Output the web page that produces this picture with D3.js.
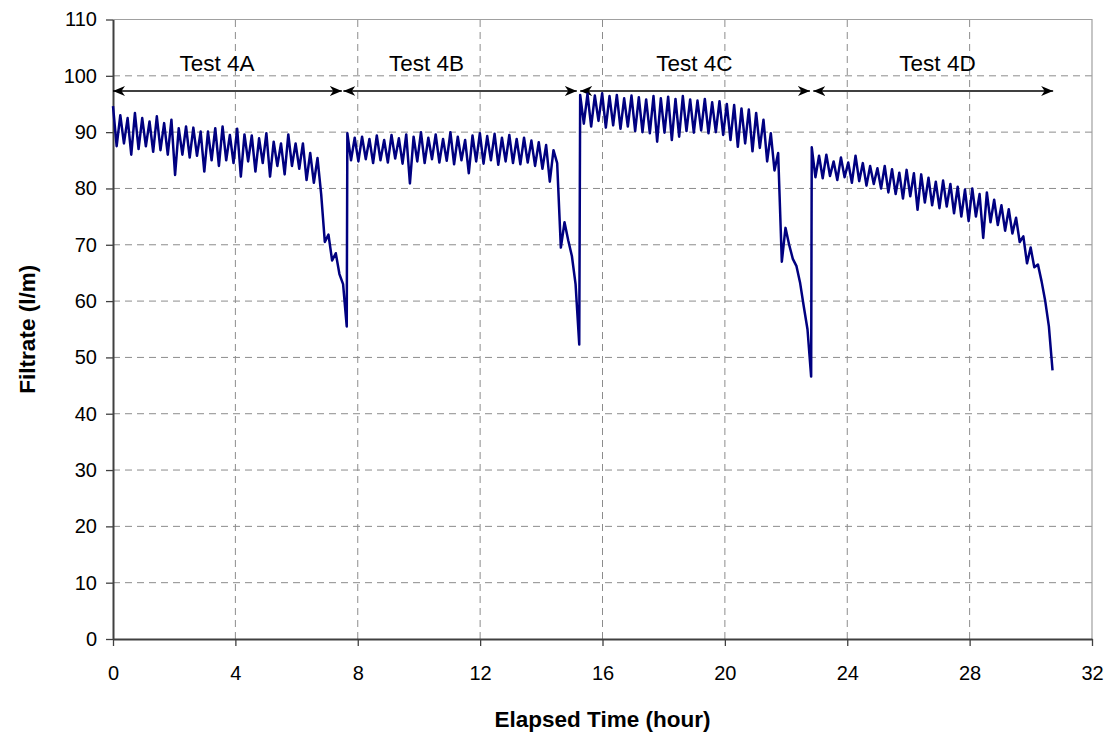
<!DOCTYPE html>
<html>
<head>
<meta charset="utf-8">
<script src="https://cdn.jsdelivr.net/npm/d3@7"></script>
<style>
  body { margin: 0; background: #fff; }
  text { font-family: Arial, "Liberation Sans", sans-serif; fill: #000; }
</style>
</head>
<body>
<script>
// axis ticks
const xTicks = [0, 4, 8, 12, 16, 20, 24, 28, 32];
const yTicks = [0, 10, 20, 30, 40, 50, 60, 70, 80, 90, 100, 110];

// each test: first and last logged reading (hours), readings evenly spaced between
const testNames = ["Test 4A", "Test 4B", "Test 4C", "Test 4D"];
const testStart = [0, 7.66, 15.27, 22.84];
const testEnd = [7.64, 15.24, 22.82, 30.71];

// filtrate readings (l/m)
const flowA = [94.6, 87.5, 93.0, 88.0, 92.5, 86.0, 93.4, 87.0, 92.5, 87.5,
               91.9, 86.5, 92.8, 86.8, 91.6, 86.0, 92.2, 82.4, 90.7, 86.0,
               91.0, 85.5, 90.8, 85.8, 90.1, 83.0, 90.1, 85.0, 90.7, 84.0,
               91.0, 85.0, 89.5, 84.5, 90.6, 82.1, 89.6, 84.8, 89.4, 83.0,
               88.9, 84.5, 89.8, 82.1, 88.3, 84.0, 88.0, 82.5, 89.6, 84.0,
               88.0, 83.5, 88.0, 81.5, 86.3, 81.0, 85.4, 79.0, 70.5, 71.8,
               67.2, 68.5, 64.8, 63.0, 55.5];
const flowB = [89.8, 85.0, 89.0, 84.8, 89.2, 85.2, 88.8, 84.5, 89.4, 85.0,
               88.6, 84.6, 89.5, 85.3, 88.9, 84.4, 89.6, 80.9, 89.2, 84.8,
               90.0, 84.5, 89.0, 85.2, 89.6, 84.6, 88.8, 84.9, 90.0, 84.3,
               89.2, 85.0, 88.6, 82.7, 89.4, 84.8, 89.8, 84.4, 89.3, 85.0,
               89.7, 84.2, 89.0, 84.8, 89.5, 84.5, 88.8, 84.3, 89.0, 84.6,
               88.5, 84.0, 88.2, 83.5, 87.7, 81.2, 86.8, 84.5, 69.5, 74.0,
               70.8, 68.0, 63.0, 52.3];
const flowC = [96.6, 91.5, 96.8, 91.0, 96.5, 92.0, 96.9, 90.8, 96.4, 91.2,
               96.6, 90.6, 96.0, 91.0, 96.5, 90.2, 96.2, 90.0, 95.8, 89.8,
               96.4, 88.3, 96.0, 89.9, 96.3, 88.6, 95.9, 89.2, 96.4, 90.2,
               95.8, 89.9, 95.6, 90.3, 95.9, 89.8, 95.3, 90.0, 95.5, 89.5,
               95.0, 88.6, 94.8, 87.4, 94.2, 88.0, 94.0, 86.6, 93.4, 87.2,
               92.2, 84.8, 89.8, 83.2, 86.3, 67.0, 73.0, 70.0, 67.5, 66.2,
               63.2, 59.0, 55.0, 46.6];
const flowD = [87.3, 82.0, 85.8, 81.8, 86.0, 82.2, 84.8, 81.5, 85.5, 82.0,
               84.6, 81.0, 85.8, 81.3, 84.5, 80.5, 84.0, 80.8, 83.6, 80.0,
               84.0, 79.3, 83.4, 79.0, 82.8, 78.2, 83.3, 78.6, 82.7, 76.2,
               82.5, 77.5, 81.9, 77.0, 81.2, 76.5, 81.4, 76.8, 80.8, 75.6,
               80.3, 75.0, 79.8, 74.2, 80.0, 75.0, 79.0, 71.2, 79.3, 74.0,
               78.0, 73.5, 77.0, 72.5, 76.3, 72.0, 74.8, 70.5, 71.5, 66.7,
               69.5, 66.0, 66.5, 63.5, 60.0, 55.5, 47.7];
const flows = [flowA, flowB, flowC, flowD];

// double arrows marking each test
const arrowFrom = [0, 7.53, 15.27, 22.89];
const arrowTo = [7.48, 15.16, 22.78, 30.73];
const arrowLevel = 97.3;
const labelAt = [3.4, 10.25, 19.0, 26.95];
const labelLevel = 100.8;


const width = 1107, height = 734;
const svg = d3.select("body").append("svg")
              .attr("width", width)
              .attr("height", height);

const xScale = d3.scaleLinear().domain([0, 32]).range([113, 1092]);
const yScale = d3.scaleLinear().domain([0, 110]).range([639, 19.5]);

// grid
svg.append("g")
   .selectAll("line")
   .data(yTicks.slice(1, -1))
   .join("line")
   .attr("x1", xScale(0)).attr("x2", xScale(32))
   .attr("y1", d => yScale(d)).attr("y2", d => yScale(d))
   .attr("stroke", "#8c8c8c").attr("stroke-dasharray", "7,5");

svg.append("g")
   .selectAll("line")
   .data(xTicks.slice(1, -1))
   .join("line")
   .attr("y1", yScale(0)).attr("y2", yScale(110))
   .attr("x1", d => xScale(d)).attr("x2", d => xScale(d))
   .attr("stroke", "#8c8c8c").attr("stroke-dasharray", "7,5");

// top / right border
svg.append("path")
   .attr("d", `M${xScale(0)},${yScale(110)}H${xScale(32)}V${yScale(0)}`)
   .attr("fill", "none").attr("stroke", "#a0a0a0").attr("stroke-width", 1.2);

// axes
const xAxis = d3.axisBottom(xScale).tickValues(xTicks).tickSize(7).tickSizeOuter(0).tickPadding(20);
const yAxis = d3.axisLeft(yScale).tickValues(yTicks).tickSize(7).tickSizeOuter(0).tickPadding(9);

const gx = svg.append("g").attr("transform", `translate(0,${yScale(0)})`).call(xAxis);
const gy = svg.append("g").attr("transform", `translate(${xScale(0)},0)`).call(yAxis);

[gx, gy].forEach(g => {
	g.select(".domain").attr("stroke", "#404040").attr("stroke-width", 2);
	g.selectAll(".tick line").attr("stroke", "#404040").attr("stroke-width", 1.3);
	g.selectAll(".tick text").attr("font-size", 20).attr("fill", "#000")
	 .attr("font-family", "Arial, 'Liberation Sans', sans-serif");
});

// axis titles
svg.append("text")
   .attr("x", (xScale(0) + xScale(32)) / 2).attr("y", 727)
   .attr("text-anchor", "middle")
   .attr("font-size", 22.5).attr("font-weight", "bold")
   .text("Elapsed Time (hour)");

svg.append("text")
   .attr("transform", `translate(35,${(yScale(0) + yScale(110)) / 2}) rotate(-90)`)
   .attr("text-anchor", "middle")
   .attr("font-size", 22.5).attr("font-weight", "bold")
   .text("Filtrate (l/m)");

// arrow heads
svg.append("defs").append("marker")
   .attr("id", "head")
   .attr("viewBox", "0 0 12 10")
   .attr("refX", 12).attr("refY", 5)
   .attr("markerWidth", 12).attr("markerHeight", 10)
   .attr("markerUnits", "userSpaceOnUse")
   .attr("orient", "auto-start-reverse")
   .append("path")
   .attr("d", "M0,0L12,5L0,10L3.5,5Z")
   .attr("fill", "#000");

svg.append("g")
   .selectAll("line")
   .data(arrowFrom)
   .join("line")
   .attr("x1", d => xScale(d))
   .attr("x2", (d, i) => xScale(arrowTo[i]))
   .attr("y1", yScale(arrowLevel)).attr("y2", yScale(arrowLevel))
   .attr("stroke", "#000").attr("stroke-width", 1.5)
   .attr("marker-start", "url(#head)")
   .attr("marker-end", "url(#head)");

svg.append("g")
   .selectAll("text")
   .data(testNames)
   .join("text")
   .attr("x", (d, i) => xScale(labelAt[i]))
   .attr("y", yScale(labelLevel))
   .attr("text-anchor", "middle")
   .attr("font-size", 22.5)
   .text(d => d);

// filtrate series, tests joined end to end
const points = [];
flows.forEach((vals, k) => {
	const step = (testEnd[k] - testStart[k]) / (vals.length - 1);
	vals.forEach((v, i) => points.push({t: testStart[k] + i * step, v: v}));
});

const line = d3.line()
               .x(d => xScale(d.t))
               .y(d => yScale(d.v));

svg.append("path")
   .attr("d", line(points))
   .attr("fill", "none")
   .attr("stroke", "#000080")
   .attr("stroke-width", 2.5)
   .attr("stroke-linejoin", "round");
</script>
</body>
</html>
